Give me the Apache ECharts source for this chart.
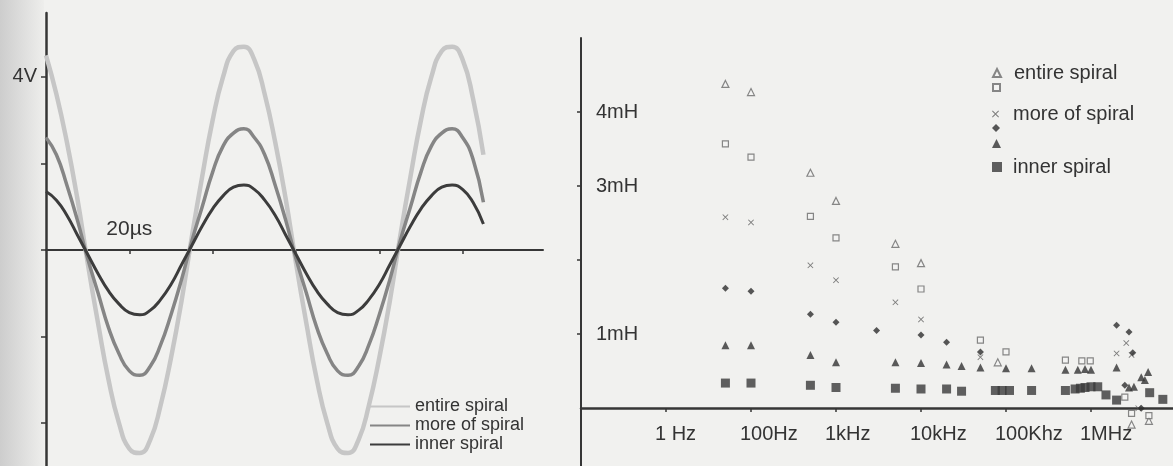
<!DOCTYPE html>
<html>
<head>
<meta charset="utf-8">
<title>spiral coil</title>
<script src="https://cdn.jsdelivr.net/npm/echarts@6/dist/echarts.min.js"></script>
<style>
  html, body { margin: 0; padding: 0; background: #f1f1ef; }
  #chart { width: 1173px; height: 466px; }
</style>
</head>
<body>
<div id="chart"></div>
<script>
// left panel: voltage traces, read every 2.5 us
const timeUs = [0, 2.5, 5, 7.5, 10, 12.5, 15, 17.5, 20, 22.5, 25, 27.5, 30, 32.5, 35, 37.5, 40, 42.5, 45, 47.5,
  50, 52.5, 55, 57.5, 60, 62.5, 65, 67.5, 70, 72.5, 75, 77.5, 80, 82.5, 85, 87.5, 90, 92.5, 95, 97.5, 100, 102.5, 105]
const entireV = [4.5, 3.6, 2.5, 1.2, -0.3, -1.7, -3.0, -4.0, -4.6, -4.7, -4.4, -3.6, -2.5, -1.2, 0.3, 1.7, 3.0, 4.0, 4.6, 4.7,
  4.4, 3.6, 2.5, 1.2, -0.3, -1.7, -3.0, -4.0, -4.6, -4.7, -4.4, -3.6, -2.5, -1.2, 0.3, 1.7, 3.0, 4.0, 4.6, 4.7, 4.4, 3.5, 2.2]
const moreV = [2.6, 2.2, 1.5, 0.7, -0.2, -1.0, -1.8, -2.4, -2.8, -2.9, -2.7, -2.2, -1.5, -0.7, 0.2, 1.0, 1.8, 2.4, 2.7, 2.8,
  2.6, 2.2, 1.5, 0.7, -0.2, -1.0, -1.8, -2.4, -2.8, -2.9, -2.7, -2.2, -1.5, -0.7, 0.2, 1.0, 1.8, 2.4, 2.7, 2.8, 2.6, 2.1, 1.1]
const innerV = [1.35, 1.15, 0.8, 0.35, -0.1, -0.55, -0.95, -1.25, -1.45, -1.5, -1.4, -1.15, -0.8, -0.35, 0.1, 0.55, 0.95, 1.25, 1.45, 1.5,
  1.4, 1.15, 0.8, 0.35, -0.1, -0.55, -0.95, -1.25, -1.45, -1.5, -1.4, -1.15, -0.8, -0.35, 0.1, 0.55, 0.95, 1.25, 1.45, 1.5, 1.4, 1.1, 0.6]
const timeTicks = [20, 40, 60, 80, 100]
const voltTicks = [-4, -2, 0, 2, 4]

// right panel: inductance (mH) against frequency (Hz), [freq, mH]
const openTri = [[50, 4.38], [100, 4.27], [500, 3.18], [1000, 2.8], [5000, 2.22], [10000, 1.96],
  [80000, 0.62], [3.0e6, -0.22], [4.8e6, -0.17]]
const openSq = [[50, 3.57], [100, 3.39], [500, 2.59], [1000, 2.3], [5000, 1.91], [10000, 1.61],
  [50000, 0.92], [100000, 0.76], [500000, 0.65], [780000, 0.64], [980000, 0.64], [2.5e6, 0.15], [3.0e6, -0.07], [4.8e6, -0.1]]
const crossPts = [[50, 2.58], [100, 2.51], [500, 1.93], [1000, 1.73], [5000, 1.43], [10000, 1.2],
  [50000, 0.69], [2.0e6, 0.74], [2.6e6, 0.88], [3.0e6, 0.72], [3.6e6, 0.0]]
const diamondPts = [[50, 1.62], [100, 1.58], [500, 1.27], [1000, 1.16], [3000, 1.05], [10000, 0.99],
  [20000, 0.89], [50000, 0.76], [2.0e6, 1.12], [2.8e6, 1.03], [3.1e6, 0.75], [2.5e6, 0.31], [3.9e6, 0.0]]
const fillTri = [[50, 0.85], [100, 0.85], [500, 0.72], [1000, 0.62], [5000, 0.62], [10000, 0.61], [20000, 0.59],
  [30000, 0.57], [50000, 0.55], [100000, 0.54], [200000, 0.54], [500000, 0.52], [700000, 0.52], [850000, 0.53],
  [1.0e6, 0.52], [2.0e6, 0.55], [2.8e6, 0.28], [3.2e6, 0.29], [3.9e6, 0.42], [4.3e6, 0.38], [4.7e6, 0.49]]
const fillSq = [[50, 0.34], [100, 0.34], [500, 0.31], [1000, 0.28], [5000, 0.27], [10000, 0.26], [20000, 0.26],
  [30000, 0.23], [75000, 0.24], [90000, 0.24], [110000, 0.24], [200000, 0.24], [500000, 0.24], [650000, 0.26],
  [750000, 0.27], [850000, 0.28], [1.0e6, 0.29], [1.2e6, 0.29], [1.5e6, 0.18], [2.0e6, 0.11], [4.9e6, 0.21], [7.0e6, 0.12]]
const freqTicks = [10, 100, 1000, 10000, 100000, 1000000]
const freqLabels = ['1 Hz', '100Hz', '1kHz', '10kHz', '100Khz', '1MHz']
const mhTicks = [1, 2, 3, 4]
const mhLabels = [1, 3, 4]

const FONT = 'Liberation Sans, Arial, sans-serif'
const AXIS = '#363636'
const crossPath = 'path://M0,1L1,0L5,4L9,0L10,1L6,5L10,9L9,10L5,6L1,10L0,9L4,5Z'

// scatter series: name, label shown in legend, symbol, size, fill, border, legend row centre
const scatterDefs = [
  { name: 'L1', label: 'entire spiral', data: openTri, symbol: 'triangle', size: 7, fill: '#f4f4f2', border: '#6a6a6a', row: 68 },
  { name: 'L2', label: '', data: openSq, symbol: 'rect', size: 6, fill: '#f4f4f2', border: '#6a6a6a', row: 88 },
  { name: 'L3', label: 'more of spiral', data: crossPts, symbol: crossPath, size: 6, fill: '#5e5e5e', border: null, row: 109 },
  { name: 'L4', label: '', data: diamondPts, symbol: 'diamond', size: 7, fill: '#2e2e2e', border: null, row: 129 },
  { name: 'L5', label: '', data: fillTri, symbol: 'triangle', size: 8, fill: '#333', border: null, row: 144 },
  { name: 'L6', label: 'inner spiral', data: fillSq, symbol: 'rect', size: 9, fill: '#3a3a3a', border: null, row: 162 }
]
const labelOf = {}
scatterDefs.forEach(d => { labelOf[d.name] = d.label })

const chart = echarts.init(document.getElementById('chart'))

const lineSeries = [
  { name: 'entire spiral', data: entireV, color: '#c6c6c6', width: 4.5 },
  { name: 'more of spiral', data: moreV, color: '#858585', width: 3.5 },
  { name: 'inner spiral', data: innerV, color: '#3c3c3c', width: 3 }
].map(s => ({
  name: s.name,
  type: 'line',
  xAxisIndex: 0,
  yAxisIndex: 0,
  smooth: true,
  symbol: 'none',
  data: timeUs.map((t, i) => [t, s.data[i]]),
  itemStyle: { color: s.color },
  lineStyle: { color: s.color, width: s.width }
}))

const scatterSeries = scatterDefs.map(d => ({
  name: d.name,
  type: 'scatter',
  xAxisIndex: 1,
  yAxisIndex: 1,
  clip: false,
  symbol: d.symbol,
  symbolSize: d.size,
  data: d.data,
  itemStyle: d.border
    ? { color: d.fill, borderColor: d.border, borderWidth: 1.2 }
    : { color: d.fill }
}))

// one legend per marker row so the rows keep their uneven spacing
const scatterLegends = scatterDefs.map(d => ({
  data: [d.name],
  left: 987,
  top: d.row - 10,
  itemWidth: d.size + 1,
  itemHeight: d.size + 1,
  selectedMode: false,
  formatter: name => labelOf[name],
  textStyle: { fontFamily: FONT, fontSize: 20, lineHeight: 20, color: '#333', padding: [0, 0, 0, 15 - d.size] }
}))

chart.setOption({
  backgroundColor: '#f1f1ef',
  animation: false,
  textStyle: { fontFamily: FONT },
  graphic: [{
    type: 'rect',
    left: 0,
    top: 0,
    z: -10,
    shape: { width: 44, height: 466 },
    style: {
      fill: new echarts.graphic.LinearGradient(0, 0, 1, 0, [
        { offset: 0, color: '#cdcdcd' },
        { offset: 1, color: '#eeeeec' }
      ])
    }
  }],
  legend: [{
    data: ['entire spiral', 'more of spiral', 'inner spiral'],
    orient: 'vertical',
    left: 364,
    top: 392,
    itemWidth: 40,
    itemHeight: 8,
    itemGap: 0,
    selectedMode: false,
    lineStyle: { width: 2 },
    itemStyle: { opacity: 0 },
    textStyle: { fontFamily: FONT, fontSize: 18, lineHeight: 19, color: '#333' }
  }].concat(scatterLegends),
  grid: [
    { left: 46, top: 13, width: 497, height: 453, outerBoundsMode: 'none', containLabel: false },
    { left: 581, top: 38, right: -3, bottom: 0, outerBoundsMode: 'none', containLabel: false }
  ],
  xAxis: [{
    gridIndex: 0,
    type: 'value',
    min: 0,
    max: 119.3,
    position: 'bottom',
    offset: -216,
    axisLine: { onZero: false, lineStyle: { color: AXIS, width: 2 } },
    axisTick: { customValues: timeTicks, length: 4, lineStyle: { color: AXIS, width: 1.5 } },
    axisLabel: {
      customValues: [20],
      inside: true,
      margin: 10,
      formatter: () => '20µs',
      fontSize: 21,
      color: '#333'
    },
    splitLine: { show: false }
  }, {
    gridIndex: 1,
    type: 'log',
    logBase: 10,
    min: 1,
    max: 1e7,
    position: 'bottom',
    offset: -58,
    axisLine: { onZero: false, lineStyle: { color: AXIS, width: 2.5 } },
    axisTick: { customValues: freqTicks, length: 4, lineStyle: { color: AXIS, width: 1.5 } },
    axisLabel: {
      customValues: freqTicks,
      margin: 16,
      align: 'left',
      padding: [0, 0, 0, -11],
      formatter: v => freqLabels[freqTicks.indexOf(Math.round(v))] || '',
      fontSize: 20,
      color: '#333'
    },
    splitLine: { show: false },
    minorTick: { show: false }
  }],
  yAxis: [{
    gridIndex: 0,
    type: 'value',
    min: -5,
    max: 5.48,
    axisLine: { onZero: false, lineStyle: { color: AXIS, width: 2.5 } },
    axisTick: { show: true, customValues: voltTicks, length: 5, lineStyle: { color: AXIS, width: 1.5 } },
    axisLabel: { customValues: [4], margin: 9, formatter: v => v + 'V', fontSize: 20, color: '#333' },
    splitLine: { show: false }
  }, {
    gridIndex: 1,
    type: 'value',
    min: -0.78,
    max: 5,
    axisLine: { onZero: false, lineStyle: { color: AXIS, width: 2 } },
    axisTick: { show: true, customValues: mhTicks, length: 4, lineStyle: { color: AXIS, width: 1.5 } },
    axisLabel: { customValues: mhLabels, inside: true, margin: 15, formatter: v => v + 'mH', fontSize: 20, color: '#333' },
    splitLine: { show: false }
  }],
  series: lineSeries.concat(scatterSeries)
})
</script>
</body>
</html>
